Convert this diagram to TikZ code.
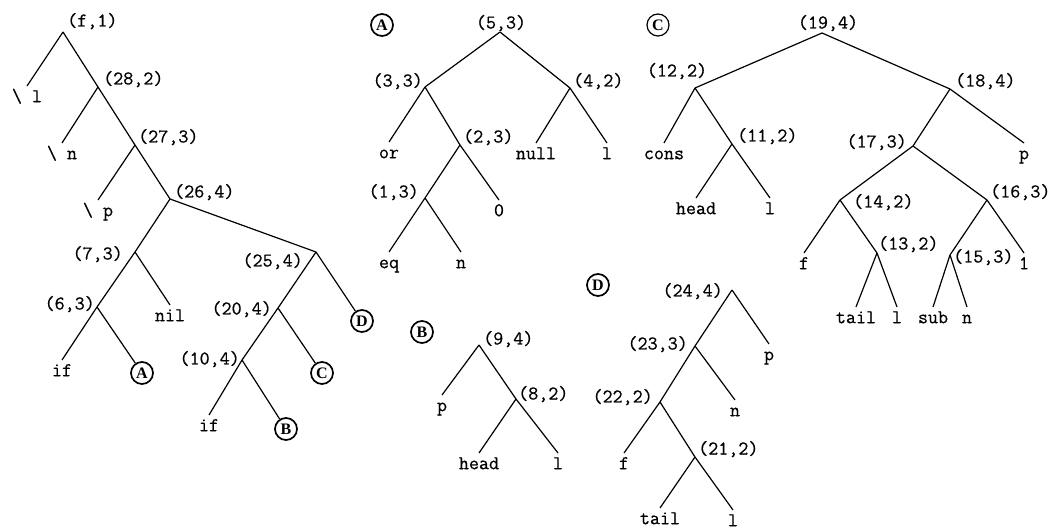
\documentclass[tikz,border=0pt]{standalone}
\usepackage{fontspec}
\setmainfont{Liberation Serif}
\newfontfamily\treefam{Latin Modern Mono}[FakeBold=0.6]
\newcommand{\treefont}{\treefam\fontsize{19.5}{21}\selectfont}
\newcommand{\circfont}{\rmfamily\bfseries\fontsize{16}{16}\selectfont}
\tikzset{
  edge/.style={line width=1.2pt},
  lbl/.style={font=\treefont, inner sep=0pt, text height=12pt, text depth=3pt},
  leaf/.style={font=\treefont, anchor=north, inner xsep=0pt, inner ysep=4pt, text height=12pt, text depth=3pt},
  circ/.style={draw, circle, line width=1.7pt, minimum size=22pt, inner sep=0pt, font=\circfont},
  circthin/.style={circ, line width=1.2pt}
}
\begin{document}
\begin{tikzpicture}[x=1pt,y=-1pt]
\useasboundingbox (0,0) rectangle (1061,529);

% ---------------- left tree ----------------
\coordinate (f1) at (63,32);
\coordinate (v28) at (98,87);
\coordinate (v27) at (135,145);
\coordinate (v26) at (170,199);
\coordinate (v7) at (135,252);
\coordinate (v6) at (97,307);
\coordinate (v25) at (316,252);
\coordinate (v20) at (278,308);
\coordinate (v10) at (242,360);

\node[lbl,anchor=west] (f1l) at (67,22) {(f,1)};
\node[lbl,anchor=west] (v28l) at (103,80) {(28,2)};
\node[lbl,anchor=west] (v27l) at (138,138) {(27,3)};
\node[lbl,anchor=west] (v26l) at (174,193) {(26,4)};
\node[lbl,anchor=east] (v7l) at (123,255) {(7,3)};
\node[lbl,anchor=east] (v6l) at (95,305) {(6,3)};
\node[lbl,anchor=east] (v25l) at (303,262) {(25,4)};
\node[lbl,anchor=east] (v20l) at (272,310) {(20,4)};
\node[lbl,anchor=east] (v10l) at (240,360) {(10,4)};

\node[leaf] (Ll) at (27,86) {\textbackslash{} l};
\node[leaf] (Ln) at (62,143) {\textbackslash{} n};
\node[leaf] (Lp) at (98,200) {\textbackslash{} p};
\node[leaf] (Lnil) at (170,305) {nil};
\node[leaf] (Lif) at (62,360) {if};
\node[leaf] (Lif2) at (209,415) {if};
\node[circ] (cA) at (142,373) {A};
\node[circ] (cD) at (362,321) {D};
\node[circ] (cC) at (322,373) {C};
\node[circ] (cB) at (286,429) {B};

\draw[edge] (f1) -- (Ll.north);
\draw[edge] (f1) -- (v28);
\draw[edge] (v28) -- (Ln.north);
\draw[edge] (v28) -- (v27);
\draw[edge] (v27) -- (Lp.north);
\draw[edge] (v27) -- (v26);
\draw[edge] (v26) -- (v7);
\draw[edge] (v26) -- (v25);
\draw[edge] (v7) -- (v6);
\draw[edge] (v7) -- (Lnil.north);
\draw[edge] (v6) -- (Lif.north);
\draw[edge] (v6) -- (cA);
\draw[edge] (v25) -- (v20);
\draw[edge] (v25) -- (cD);
\draw[edge] (v20) -- (v10);
\draw[edge] (v20) -- (cC);
\draw[edge] (v10) -- (Lif2.north);
\draw[edge] (v10) -- (cB);

% ---------------- tree A ----------------
\node[circ] (cAt) at (382,25) {A};
\coordinate (a5) at (500,32);
\coordinate (a3) at (425,87);
\coordinate (a4) at (570,88);
\coordinate (a2) at (460,145);
\coordinate (a1) at (425,198);
\node[lbl] (a5l) at (501,24) {(5,3)};
\node[lbl,anchor=east] (a3l) at (423,82) {(3,3)};
\node[lbl,anchor=west] (a4l) at (573,82) {(4,2)};
\node[lbl,anchor=west] (a2l) at (463,138) {(2,3)};
\node[lbl,anchor=east] (a1l) at (419,193) {(1,3)};
\node[leaf] (Aor) at (389,142) {or};
\node[leaf] (Anull) at (536,143) {null};
\node[leaf] (Al) at (607,143) {l};
\node[leaf] (A0) at (499,200) {0};
\node[leaf] (Aeq) at (389,252) {eq};
\node[leaf] (An) at (461,252) {n};
\draw[edge] (a5) -- (a3);
\draw[edge] (a5) -- (a4);
\draw[edge] (a3) -- (Aor.north);
\draw[edge] (a3) -- (a2);
\draw[edge] (a4) -- (Anull.north);
\draw[edge] (a4) -- (Al.north);
\draw[edge] (a2) -- (a1);
\draw[edge] (a2) -- (A0.north);
\draw[edge] (a1) -- (Aeq.north);
\draw[edge] (a1) -- (An.north);

% ---------------- tree C ----------------
\node[circthin] (cCt) at (658,25) {C};
\coordinate (c19) at (822,33);
\coordinate (c12) at (695,88);
\coordinate (c18) at (950,89);
\coordinate (c11) at (732,144);
\coordinate (c17) at (913,146);
\coordinate (c14) at (840,200);
\coordinate (c16) at (987,200);
\coordinate (c13) at (877,253);
\coordinate (c15) at (950,255);
\node[lbl] (c19l) at (828,24) {(19,4)};
\node[lbl] (c12l) at (677,72) {(12,2)};
\node[lbl,anchor=west] (c18l) at (955,82) {(18,4)};
\node[lbl,anchor=west] (c11l) at (737,137) {(11,2)};
\node[lbl,anchor=east] (c17l) at (907,143) {(17,3)};
\node[lbl,anchor=west] (c14l) at (853,203) {(14,2)};
\node[lbl,anchor=west] (c16l) at (990,193) {(16,3)};
\node[lbl,anchor=west] (c13l) at (878,245) {(13,2)};
\node[lbl,anchor=west] (c15l) at (953,258) {(15,3)};
\node[leaf] (Ccons) at (664,143) {cons};
\node[leaf] (Chead) at (696,198) {head};
\node[leaf] (Cl) at (770,198) {l};
\node[leaf] (Cp) at (1024,143) {p};
\node[leaf] (Cf) at (804,253) {f};
\node[leaf] (C1) at (1024,253) {1};
\node[leaf] (Ctail) at (856,307) {tail};
\node[leaf] (Cl2) at (897,307) {l};
\node[leaf] (Csub) at (933,307) {sub};
\node[leaf] (Cn) at (967,307) {n};
\draw[edge] (c19) -- (c12);
\draw[edge] (c19) -- (c18);
\draw[edge] (c12) -- (Ccons.north);
\draw[edge] (c12) -- (c11);
\draw[edge] (c11) -- (Chead.north);
\draw[edge] (c11) -- (Cl.north);
\draw[edge] (c18) -- (c17);
\draw[edge] (c18) -- (Cp.north);
\draw[edge] (c17) -- (c14);
\draw[edge] (c17) -- (c16);
\draw[edge] (c14) -- (Cf.north);
\draw[edge] (c14) -- (c13);
\draw[edge] (c13) -- (Ctail.north);
\draw[edge] (c13) -- (Cl2.north);
\draw[edge] (c16) -- (c15);
\draw[edge] (c16) -- (C1.north);
\draw[edge] (c15) -- (Csub.north);
\draw[edge] (c15) -- (Cn.north);

% ---------------- tree B ----------------
\node[circ] (cBt) at (422,332) {B};
\coordinate (b9) at (479,345);
\coordinate (b8) at (516,399);
\node[lbl,anchor=west] (b9l) at (483,340) {(9,4)};
\node[lbl,anchor=west] (b8l) at (518,395) {(8,2)};
\node[leaf] (Bp) at (442,395) {p};
\node[leaf] (Bhead) at (479,453) {head};
\node[leaf] (Bl) at (558,453) {l};
\draw[edge] (b9) -- (Bp.north);
\draw[edge] (b9) -- (b8);
\draw[edge] (b8) -- (Bhead.north);
\draw[edge] (b8) -- (Bl.north);

% ---------------- tree D ----------------
\node[circ] (cDt) at (598,285) {D};
\coordinate (d24) at (732,290);
\coordinate (d23) at (695,346);
\coordinate (d22) at (660,402);
\coordinate (d21) at (695,457);
\node[lbl,anchor=east] (d24l) at (723,292) {(24,4)};
\node[lbl,anchor=east] (d23l) at (688,345) {(23,3)};
\node[lbl,anchor=east] (d22l) at (653,398) {(22,2)};
\node[lbl,anchor=west] (d21l) at (698,450) {(21,2)};
\node[leaf] (Dp) at (769,344) {p};
\node[leaf] (Dn) at (735,400) {n};
\node[leaf] (Df) at (624,453) {f};
\node[leaf] (Dtail) at (660,508) {tail};
\node[leaf] (Dl) at (733,510) {l};
\draw[edge] (d24) -- (d23);
\draw[edge] (d24) -- (Dp.north);
\draw[edge] (d23) -- (d22);
\draw[edge] (d23) -- (Dn.north);
\draw[edge] (d22) -- (Df.north);
\draw[edge] (d22) -- (d21);
\draw[edge] (d21) -- (Dtail.north);
\draw[edge] (d21) -- (Dl.north);
\end{tikzpicture}
\end{document}
